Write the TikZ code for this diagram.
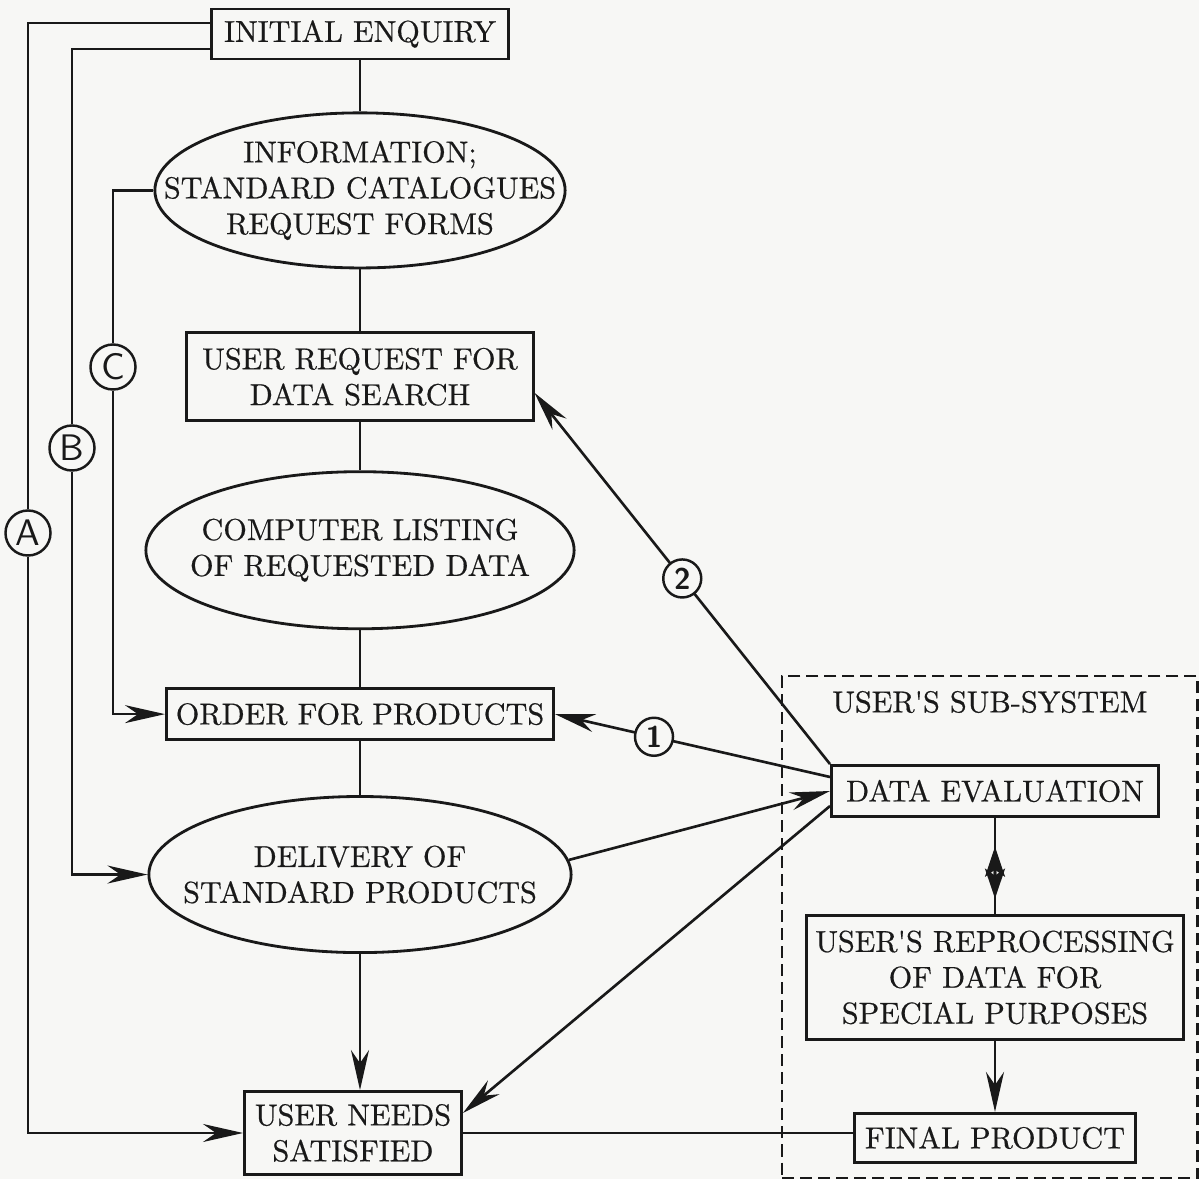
\documentclass[tikz,border=0pt]{standalone}
\usepackage{xcolor}
\usepackage{fontspec}
\usepackage{tikz}
\usetikzlibrary{shapes.geometric, arrows.meta, positioning, calc}
\definecolor{ink}{RGB}{25,25,25}
\definecolor{paper}{RGB}{247,247,245}
\newfontfamily\chartface{lmroman10-regular.otf}[FakeBold=0.5]
\newcommand{\chartfont}{\chartface\fontsize{8.6}{10.2}\selectfont}
\tikzset{
  box/.style={rectangle, draw=ink, text=ink, align=center, font=\chartfont,
    inner sep=2pt, line width=0.8pt},
  oval/.style={ellipse, draw=ink, inner sep=0pt, line width=0.8pt},
  ovaltext/.style={text=ink, align=center, font=\chartfont},
  arrow/.style={-{Stealth[length=4mm, width=1.8mm, inset=1.3mm]}, line width=0.75pt, color=ink},
  shortarrow/.style={-{Stealth[length=3mm, width=2mm, inset=0.7mm]}, line width=0.75pt, color=ink},
  line/.style={line width=0.75pt, color=ink}
}

\begin{document}
\begin{tikzpicture}[x=0.01cm, y=-0.01cm,
  tag/.style={circle, draw=ink, fill=paper, text=ink, minimum size=0.45cm, inner sep=0pt, line width=0.7pt, font=\sffamily\fontsize{10.5}{10.5}\selectfont},
  numtag/.style={tag, minimum size=0.38cm, font=\sffamily\bfseries\fontsize{8.5}{8.5}\selectfont},
  subframe/.style={rectangle, draw=ink, dash pattern=on 1.2mm off 0.6mm, line width=0.7pt, inner sep=0pt}]

  \useasboundingbox (0,0) rectangle (1199,1179);
  \fill[paper] (0,0) rectangle (1199,1179);

  % Main column
  \node[box, minimum width=2.97cm, minimum height=0.5cm] (enquiry) at (360,34) {INITIAL ENQUIRY};
  \node[oval, minimum width=4.1cm, minimum height=1.55cm, below=0.51cm of enquiry,
    label={[ovaltext]center:INFORMATION;\\STANDARD CATALOGUES\\REQUEST FORMS}] (info) {};
  \node[box, minimum width=3.46cm, minimum height=0.88cm, below=0.62cm of info] (request) {USER REQUEST FOR\\DATA SEARCH};
  \node[oval, minimum width=4.28cm, minimum height=1.57cm, below=0.48cm of request,
    label={[ovaltext]center:COMPUTER LISTING\\OF REQUESTED DATA}] (listing) {};
  \node[box, minimum width=3.87cm, minimum height=0.51cm, below=0.57cm of listing] (order) {ORDER FOR PRODUCTS};
  \node[oval, minimum width=4.22cm, minimum height=1.56cm, below=0.54cm of order,
    label={[ovaltext]center:DELIVERY OF\\STANDARD PRODUCTS}] (delivery) {};
  \node[box, minimum width=2.17cm, minimum height=0.83cm] (needs) at (353,1133) {USER NEEDS\\SATISFIED};

  % User's sub-system
  \node[subframe, minimum width=4.15cm, minimum height=5.02cm, anchor=north west] (subsys) at (781,675) {};
  \node[ovaltext] (subtitle) at ($(subsys.north)+(0,27)$) {USER'S SUB-SYSTEM};
  \node[box, minimum width=3.27cm, minimum height=0.51cm] (evaluation) at (995,791) {DATA EVALUATION};
  \node[box, minimum width=3.77cm, minimum height=1.24cm, below=0.96cm of evaluation] (reprocess) {USER'S REPROCESSING\\OF DATA FOR\\SPECIAL PURPOSES};
  \node[box, minimum width=2.81cm, minimum height=0.49cm, below=0.71cm of reprocess] (final) {FINAL PRODUCT};

  % Main flow
  \draw[line] (enquiry) -- (info);
  \draw[line] (info) -- (request);
  \draw[line] (request) -- (listing);
  \draw[line] (listing) -- (order);
  \draw[line] (order) -- (delivery);
  \draw[arrow] (delivery.south) -- (delivery.south |- needs.north);

  % Return loops A, B, C
  \node[tag] (tagA) at (28,533) {A};
  \node[tag] (tagB) at (72,448) {B};
  \node[tag] (tagC) at (113,367) {C};
  \draw[line] ([yshift=0.11cm]enquiry.west) -| (tagA);
  \draw[arrow] (tagA) |- (needs.west);
  \draw[line] ([yshift=-0.15cm]enquiry.west) -| (tagB);
  \draw[arrow] (tagB) |- (delivery.west);
  \draw[line] (info.west) -| (tagC);
  \draw[arrow] (tagC) |- (order.west);

  % Feedback from the user's sub-system
  \draw[arrow] (evaluation.north west) -- node[numtag, pos=0.5] (tag2) {2} ([yshift=-0.16cm]request.east);
  \draw[arrow] ([yshift=0.14cm]evaluation.west) -- node[numtag, pos=0.64] (tag1) {1} (order.east);
  \draw[arrow] (delivery.4) -- (evaluation.west);
  \draw[arrow] ([yshift=-0.15cm]evaluation.west) -- ([yshift=0.2cm]needs.east);

  % Two-way link, heads in the middle
  \coordinate (rptop) at (evaluation.south |- reprocess.north);
  \coordinate (uptip) at ($(evaluation.south)!0.30!(rptop)$);
  \coordinate (downtip) at ($(evaluation.south)!0.84!(rptop)$);
  \draw[line] (evaluation.south) -- (rptop);
  \draw[shortarrow] ($(uptip)!0.75!(downtip)$) -- (uptip);
  \draw[shortarrow] ($(downtip)!0.75!(uptip)$) -- (downtip);

  \draw[arrow] (reprocess) -- (final);
  \draw[line] (needs.east) -- (needs.east -| final.west);

\end{tikzpicture}
\end{document}
